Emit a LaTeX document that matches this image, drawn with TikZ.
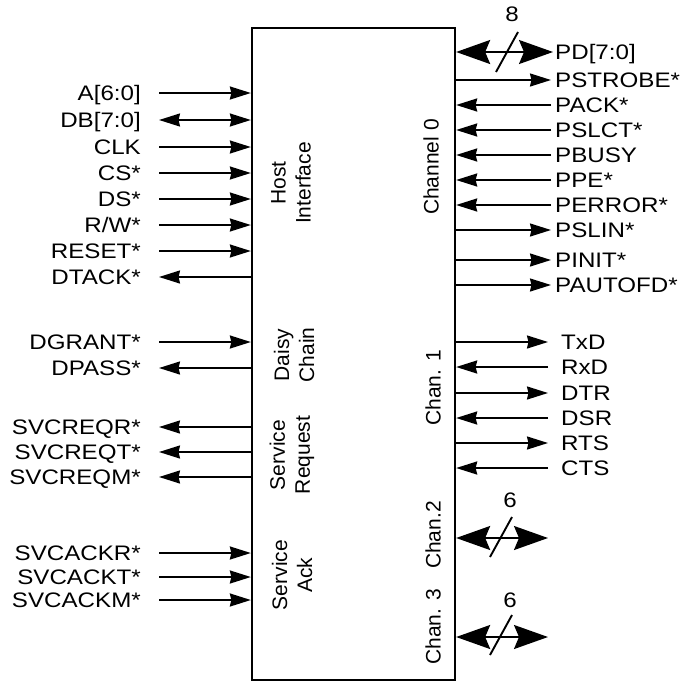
\documentclass[tikz,border=0pt]{standalone}
\usepackage{fontspec}
\setmainfont{Liberation Sans}[FakeStretch=1.15]
\newfontfamily\boxfont{Liberation Sans}
\usetikzlibrary{arrows.meta}
\begin{document}
\begin{tikzpicture}[x=1pt,y=-1pt,
  font=\fontsize{21}{26}\selectfont,
  sig/.style={line width=1.9pt, -{Stealth[length=21pt,width=13pt,inset=1.5pt]}},
  sigboth/.style={line width=1.9pt, {Stealth[length=21pt,width=13pt,inset=1.5pt]}-{Stealth[length=21pt,width=13pt,inset=1.5pt]}},
  bus/.style={line width=1.9pt, {Stealth[length=34pt,width=24pt,inset=5pt]}-{Stealth[length=34pt,width=24pt,inset=5pt]}},
  slash/.style={line width=1.9pt},
  lbl/.style={text height=15pt, text depth=0pt, inner sep=0pt},
  boxtxt/.style={rotate=90, align=center, inner sep=0pt, font=\boxfont\fontsize{21}{25}\selectfont},
  chipbox/.style={draw, line width=2.3pt, minimum width=203pt, minimum height=652pt, inner sep=0pt}
]
\useasboundingbox (0,0) rectangle (687,683);

\node[chipbox] (chip) at (353.5,354) {};

% texts inside the box
\node[boxtxt] (hi) at (291,183) {Host\\Interface};
\node[boxtxt] (dc) at (294,355) {Daisy\\Chain};
\node[boxtxt] (sr) at (292,455) {Service\\Request};
\node[boxtxt] (sa) at (292,575) {Service\\Ack};
\node[boxtxt] (c0) at (431,167) {Channel 0};
\node[boxtxt] (c1) at (433,388) {Chan. 1};
\node[boxtxt] (c2) at (433,535) {Chan.2};
\node[boxtxt] (c3) at (433,627) {Chan. 3};

% left side: inputs
\foreach \n/\y/\t in {a/93/{A[6:0]}, clk/147/{CLK}, cs/173/{CS*}, ds/199/{DS*},
    rw/225/{R/W*}, rst/251/{RESET*}, dg/342/{DGRANT*},
    sar/553/{SVCACKR*}, sat/577/{SVCACKT*}, sam/600/{SVCACKM*}}{
  \coordinate (L\n) at (159,\y);
  \node[lbl, anchor=east] (t\n) at (141,\y) {\t};
  \draw[sig] (L\n) -- (chip.west |- L\n);
}
% left side: outputs
\foreach \n/\y/\t in {dt/277/{DTACK*}, dp/368/{DPASS*},
    sqr/427/{SVCREQR*}, sqt/452/{SVCREQT*}, sqm/477/{SVCREQM*}}{
  \coordinate (L\n) at (159,\y);
  \node[lbl, anchor=east] (t\n) at (141,\y) {\t};
  \draw[sig] (chip.west |- L\n) -- (L\n);
}
% left side: bidirectional
\coordinate (Ldb) at (159,120);
\node[lbl, anchor=east] (tdb) at (141,120) {DB[7:0]};
\draw[sigboth] (Ldb) -- (chip.west |- Ldb);

% right side: outputs
\foreach \n/\y/\t/\ex/\lx in {pst/80/{PSTROBE*}/551/555, psl/230/{PSLIN*}/551/555,
    pin/260/{PINIT*}/551/555, paf/285/{PAUTOFD*}/551/555,
    txd/342/{TxD}/548/561, dtr/393/{DTR}/548/561, rts/443/{RTS}/548/561}{
  \coordinate (R\n) at (\ex,\y);
  \node[lbl, anchor=west] (t\n) at (\lx,\y) {\t};
  \draw[sig] (chip.east |- R\n) -- (R\n);
}
% right side: inputs
\foreach \n/\y/\t/\ex/\lx in {pak/105/{PACK*}/551/555, pslc/130/{PSLCT*}/551/555,
    pbu/155/{PBUSY}/551/555, ppe/180/{PPE*}/551/555, per/205/{PERROR*}/551/555,
    rxd/367/{RxD}/548/561, dsr/418/{DSR}/548/561, cts/468/{CTS}/548/561}{
  \coordinate (R\n) at (\ex,\y);
  \node[lbl, anchor=west] (t\n) at (\lx,\y) {\t};
  \draw[sig] (R\n) -- (chip.east |- R\n);
}

% buses
\coordinate (Rpd) at (553,52);
\node[lbl, anchor=west] (tpd) at (555,52) {PD[7:0]};
\draw[bus] (chip.east |- Rpd) -- (Rpd);
\coordinate (s0a) at (496,72); \coordinate (s0b) at (518,32);
\draw[slash] (s0a) -- (s0b);
\node[inner sep=0pt] (n8) at (512,14) {8};

\coordinate (Rc2) at (548,538);
\draw[bus] (chip.east |- Rc2) -- (Rc2);
\coordinate (s2a) at (490,557); \coordinate (s2b) at (512,517);
\draw[slash] (s2a) -- (s2b);
\node[inner sep=0pt] (n6a) at (510,500) {6};

\coordinate (Rc3) at (548,637);
\draw[bus] (chip.east |- Rc3) -- (Rc3);
\coordinate (s3a) at (490,655); \coordinate (s3b) at (512,615);
\draw[slash] (s3a) -- (s3b);
\node[inner sep=0pt] (n6b) at (510,600) {6};
\end{tikzpicture}
\end{document}
